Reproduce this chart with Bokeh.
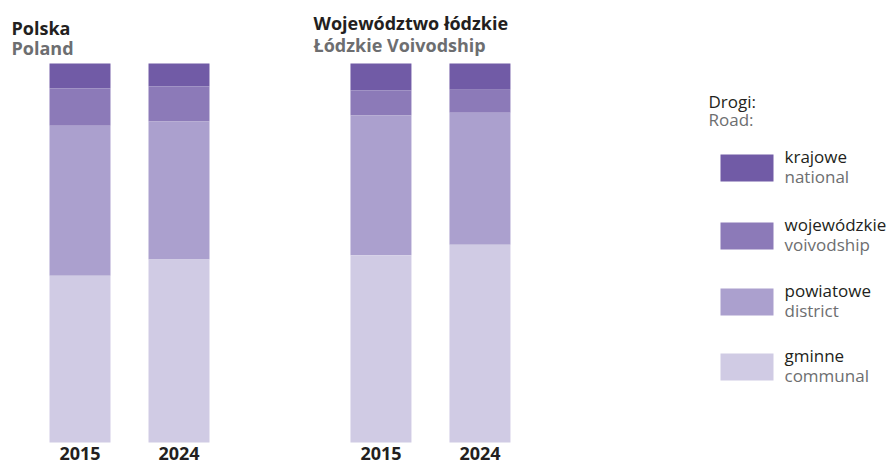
from bokeh.plotting import figure
from bokeh.models import Range1d
from bokeh.core.properties import value
from bokeh.embed import file_html
from bokeh.resources import INLINE

# ---- data (percent shares of public roads by category) ----
groups = ["Polska", "Województwo łódzkie"]
groups_en = ["Poland", "Łódzkie Voivodship"]
years = ["2015", "2024"]
categories = ["krajowe", "wojewódzkie", "powiatowe", "gminne"]
categories_en = ["national", "voivodship", "district", "communal"]
colors = ["#715BA6", "#8C7AB8", "#ABA0CE", "#D0CBE4"]
# order: Polska 2015, Polska 2024, Łódzkie 2015, Łódzkie 2024
national = [6.6, 6.1, 7.1, 6.9]
voivodship = [9.8, 9.2, 6.6, 6.1]
district = [39.6, 36.4, 36.9, 34.8]
communal = [44.0, 48.3, 49.4, 52.2]

W, H = 893, 466
SX = 99.0      # px per x unit
SY = 3.79      # px per percent
X0 = -79.5 / SX
X1 = X0 + W / SX
Y1 = 100 + 63 / SY
Y0 = Y1 - H / SY
DY = -6.5      # text baseline correction

def px(xi):   # image x -> data x
    return X0 + xi / SX

def py(yi):   # image y -> data y
    return Y1 - yi / SY

def ty(yi):   # text baseline position
    return py(yi + DY)

p = figure(width=W, height=H, output_backend="svg", toolbar_location=None,
           x_range=Range1d(X0, X1), y_range=Range1d(Y0, Y1),
           min_border=0, outline_line_color=None)
p.axis.visible = False
p.grid.visible = False
p.background_fill_color = "white"
p.border_fill_color = "white"

GAP = 3.04
xpos = [g * GAP + i for g in range(len(groups)) for i in range(len(years))]
ylabels = [y for g in groups for y in years]

# stack from top: national at top, communal at bottom
series = [national, voivodship, district, communal]
top = [100.0] * 4
for s, c in zip(series, colors):
    bottom = [t - v for t, v in zip(top, s)]
    if s is communal:
        bottom = [0.0] * 4
    p.quad(left=[x - 0.308 for x in xpos], right=[x + 0.308 for x in xpos],
           top=top, bottom=bottom, fill_color=c, line_color=None)
    top = bottom

FONT = value("Open Sans")
BLACK = "#231F20"
GRAY = "#6D6E70"

# year labels
p.text(x=xpos, y=[ty(459)] * 4, text=ylabels, text_font=FONT,
       text_font_size="18px", text_font_style="bold", text_color=BLACK,
       text_align="center", text_baseline="alphabetic")

# group titles
tx = [px(11), px(313)]
p.text(x=tx, y=[ty(34), ty(29)], text=groups, text_font=FONT,
       text_font_size="18px", text_font_style="bold", text_color=BLACK,
       text_align="left", text_baseline="alphabetic")
p.text(x=tx, y=[ty(54), ty(51)], text=groups_en, text_font=FONT,
       text_font_size="18px", text_font_style="bold", text_color=GRAY,
       text_align="left", text_baseline="alphabetic")

# legend
p.text(x=[px(708)], y=[ty(107)], text=["Drogi:"], text_font=FONT,
       text_font_size="17px", text_color=BLACK, text_baseline="alphabetic")
p.text(x=[px(708)], y=[ty(125)], text=["Road:"], text_font=FONT,
       text_font_size="17px", text_color=GRAY, text_baseline="alphabetic")

ctr = [167.5, 235.5, 301.5, 366.5]
p.quad(left=[px(720)] * 4, right=[px(773)] * 4,
       top=[py(c - 13.5) for c in ctr], bottom=[py(c + 13.5) for c in ctr],
       fill_color=colors, line_color=None)
p.text(x=[px(784)] * 4, y=[ty(c - 5.5) for c in ctr], text=categories,
       text_font=FONT, text_font_size="17px", text_color=BLACK,
       text_baseline="alphabetic")
p.text(x=[px(784)] * 4, y=[ty(c + 14.5) for c in ctr], text=categories_en,
       text_font=FONT, text_font_size="17px", text_color=GRAY,
       text_baseline="alphabetic")

open("out.html", "w").write(file_html(p, INLINE))
